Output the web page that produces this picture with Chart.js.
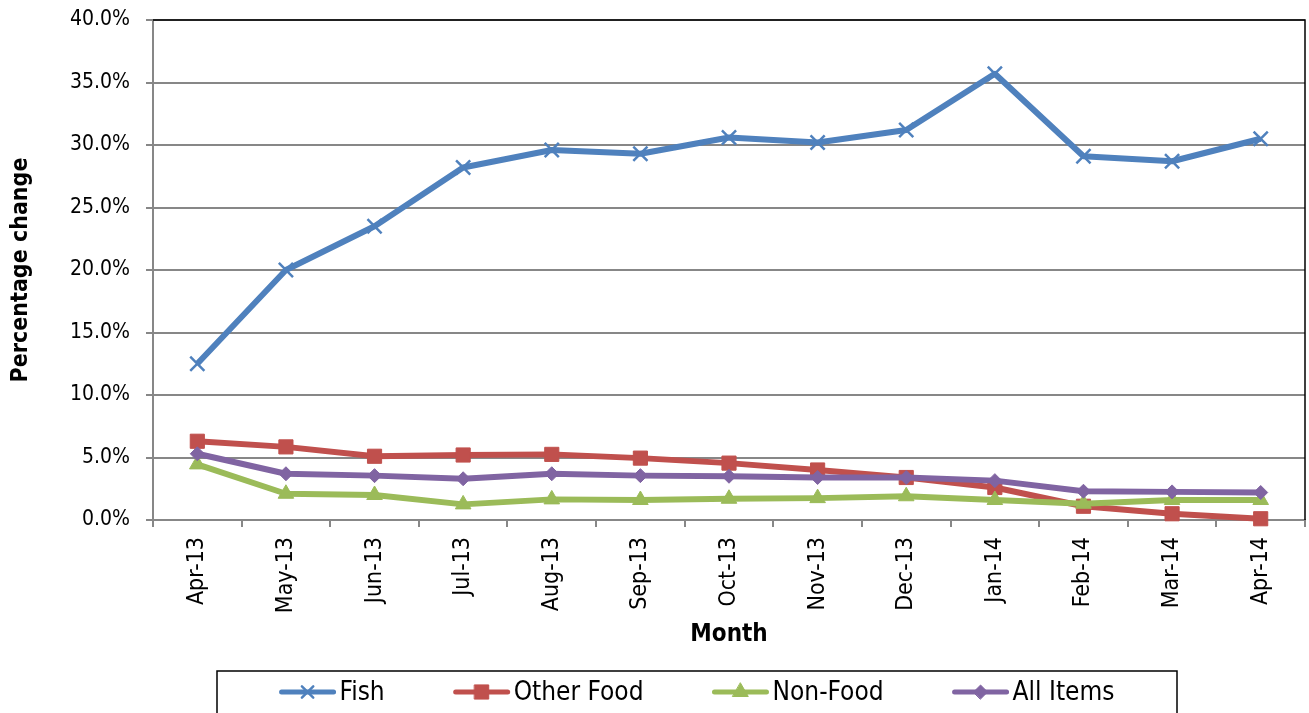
<!DOCTYPE html>
<html>
<head>
<meta charset="utf-8">
<title>Percentage change by month</title>
<script src="https://cdn.jsdelivr.net/npm/chart.js@4"></script>
<style>
	html, body { margin: 0; padding: 0; background: #fff; }
	#wrap { width: 1309px; height: 713px; position: relative; }
</style>
</head>
<body>
<div id="wrap"><canvas id="chart"></canvas></div>
<script>
const months = ['Apr-13', 'May-13', 'Jun-13', 'Jul-13', 'Aug-13', 'Sep-13', 'Oct-13', 'Nov-13', 'Dec-13', 'Jan-14', 'Feb-14', 'Mar-14', 'Apr-14'];

const fish = [12.5, 20.0, 23.5, 28.2, 29.6, 29.3, 30.6, 30.2, 31.2, 35.7, 29.1, 28.7, 30.5];
const otherFood = [6.3, 5.85, 5.1, 5.2, 5.25, 4.95, 4.55, 4.0, 3.4, 2.6, 1.1, 0.5, 0.1];
const nonFood = [4.45, 2.1, 2.0, 1.25, 1.65, 1.6, 1.7, 1.75, 1.9, 1.6, 1.3, 1.6, 1.6];
const allItems = [5.3, 3.7, 3.55, 3.3, 3.7, 3.55, 3.5, 3.4, 3.4, 3.15, 2.3, 2.25, 2.2];

const yTicks = [0, 5, 10, 15, 20, 25, 30, 35, 40];

const fontFamily = "'DejaVu Sans Condensed', 'DejaVu Sans', sans-serif";
const gridGrey = '#878787';

Chart.defaults.font.family = fontFamily;
Chart.defaults.color = '#000';

function series(label, data, color, pointStyle, radius, order) {
	return {
		label: label,
		data: data,
		borderColor: color,
		backgroundColor: color,
		borderWidth: 6,
		borderJoinStyle: 'round',
		tension: 0,
		pointStyle: pointStyle,
		pointRadius: radius,
		pointHoverRadius: radius,
		pointBorderWidth: pointStyle === 'crossRot' ? 2.5 : 1,
		pointBorderColor: color,
		pointBackgroundColor: color,
		order: order,
		clip: false,
	};
}

// plot frame: black top and right edges
const frame = {
	id: 'frame',
	afterDraw(chart) {
		const { ctx, chartArea: a } = chart;
		ctx.save();
		ctx.strokeStyle = '#000';
		ctx.lineWidth = 1.5;
		ctx.beginPath();
		ctx.moveTo(a.left, a.top);
		ctx.lineTo(a.right, a.top);
		ctx.lineTo(a.right, a.bottom);
		ctx.stroke();
		ctx.restore();
	}
};

// legend in a box below the chart, line + marker icons
const boxLegend = {
	id: 'boxLegend',
	afterDraw(chart) {
		const ctx = chart.ctx;
		const box = { left: 217, top: 671, right: 1177, bottom: 720 };
		const iconLen = 56;
		const iconGap = 4;
		const itemGap = 69;
		const cy = 692;

		ctx.save();
		ctx.strokeStyle = '#000';
		ctx.lineWidth = 1.5;
		ctx.strokeRect(box.left, box.top, box.right - box.left, box.bottom - box.top);

		ctx.font = `26px ${fontFamily}`;
		const items = chart.data.datasets.map((ds) => ({ ds, w: ctx.measureText(ds.label).width }));
		const total = items.reduce((a, it) => a + iconLen + iconGap + it.w, 0) + itemGap * (items.length - 1);
		let x = (box.left + box.right) / 2 - total / 2;

		items.forEach(({ ds, w }) => {
			ctx.strokeStyle = ds.borderColor;
			ctx.lineWidth = 5;
			ctx.lineCap = 'round';
			ctx.beginPath();
			ctx.moveTo(x + 2, cy);
			ctx.lineTo(x + iconLen - 2, cy);
			ctx.stroke();

			ctx.fillStyle = ds.borderColor;
			ctx.strokeStyle = ds.borderColor;
			ctx.lineWidth = ds.pointBorderWidth;
			Chart.helpers.drawPoint(ctx, {
				pointStyle: ds.pointStyle,
				radius: ds.pointStyle === 'crossRot' ? 8 : ds.pointRadius,
				borderWidth: ds.pointBorderWidth,
			}, x + iconLen / 2, cy);

			ctx.fillStyle = '#000';
			ctx.textAlign = 'left';
			ctx.textBaseline = 'middle';
			ctx.fillText(ds.label, x + iconLen + iconGap, cy + 1);
			x += iconLen + iconGap + w + itemGap;
		});
		ctx.restore();
	}
};

new Chart(document.getElementById('chart'), {
	type: 'line',
	data: {
		labels: months,
		datasets: [
			series('Fish', fish, '#4F81BD', 'crossRot', 10, 3),
			series('Other Food', otherFood, '#C0504D', 'rect', 10, 2),
			series('Non-Food', nonFood, '#9BBB59', 'triangle', 9, 1),
			series('All Items', allItems, '#8064A2', 'rectRot', 7, 0),
		]
	},
	options: {
		responsive: true,
		maintainAspectRatio: false,
		animation: false,
		devicePixelRatio: 1,
		layout: {
			autoPadding: false,
			padding: { top: 20, right: 4, left: 0, bottom: 0 },
		},
		plugins: {
			legend: { display: false },
			tooltip: { enabled: false },
		},
		scales: {
			x: {
				offset: true,
				grid: {
					drawOnChartArea: false,
					offset: true,
					tickLength: 7,
					color: gridGrey,
					lineWidth: 2,
				},
				border: { color: gridGrey, width: 2 },
				ticks: {
					autoSkip: false,
					minRotation: 90,
					maxRotation: 90,
					padding: 10,
					font: { size: 23 },
				},
				title: {
					display: true,
					text: 'Month',
					font: { size: 24, weight: 'bold' },
					padding: { top: 0, bottom: 64 },
				},
				afterFit(scale) {
					scale.height = 193;
					scale.paddingLeft = 0;
					scale.paddingRight = 0;
				},
			},
			y: {
				min: 0,
				max: 40,
				afterBuildTicks(scale) {
					scale.ticks = yTicks.map((v) => ({ value: v }));
				},
				grid: {
					tickLength: 7,
					color: gridGrey,
					lineWidth: 2,
				},
				border: { color: gridGrey, width: 2 },
				ticks: {
					padding: 16,
					font: { size: 21 },
					callback: (v) => `${Number(v).toFixed(1)}%`,
				},
				title: {
					display: true,
					text: 'Percentage change',
					font: { size: 23, weight: 'bold' },
					padding: { top: 7, bottom: 0 },
				},
				afterFit(scale) {
					scale.width = 153;
					scale.paddingTop = 0;
					scale.paddingBottom = 0;
				},
			},
		},
	},
	plugins: [frame, boxLegend],
});
</script>
</body>
</html>
